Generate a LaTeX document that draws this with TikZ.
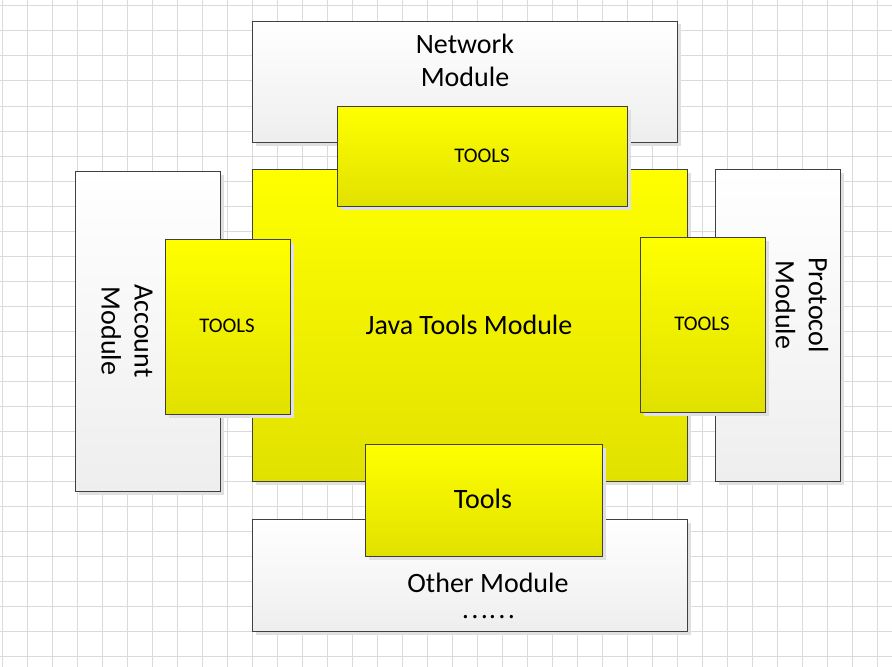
\documentclass[tikz,border=0pt]{standalone}
\usepackage{fontspec}
\setmainfont{Carlito}
\newfontfamily\cjkfont{Noto Sans CJK SC}
\usetikzlibrary{fit,shadows}
\definecolor{gridcol}{HTML}{DADADA}
\definecolor{bordercol}{HTML}{404040}
\definecolor{shadowcol}{HTML}{E0E0E0}
\definecolor{graybot}{HTML}{EEEEEE}
\definecolor{yeltop}{HTML}{FFFF00}
\definecolor{yelbot}{HTML}{E1E100}
\begin{document}
\begin{tikzpicture}[x=0.75pt,y=-0.75pt,
  box/.style={draw=bordercol, line width=0.8pt, inner sep=0pt, outer sep=0pt,
    drop shadow={shadow xshift=2.4pt, shadow yshift=-2.4pt, fill=shadowcol, opacity=1}},
  graybox/.style={box, top color=white, bottom color=graybot},
  yelbox/.style={box, top color=yeltop, bottom color=yelbot},
  big/.style={font=\fontsize{21}{24.75}\selectfont, align=center, inner sep=0pt},
  small/.style={font=\fontsize{15.6}{19}\selectfont, inner sep=0pt}]
\useasboundingbox (0,0) rectangle (892,667);
\fill[white] (0,0) rectangle (892,667);
\foreach \k in {0,...,35} \draw[gridcol, line width=0.75pt] ({2.5+25*\k},0) -- ({2.5+25*\k},667);
\foreach \k in {0,...,26} \draw[gridcol, line width=0.75pt] (0,{6+25*\k}) -- (892,{6+25*\k});
% modules
\node[graybox, fit={(252.3,21.3) (677.3,142.3)}] (net) {};
\node[graybox, fit={(75.3,171.3) (220.3,491.3)}] (acct) {};
\node[graybox, fit={(715.3,169.3) (840.7,481.3)}] (prot) {};
\node[graybox, fit={(252.3,519.3) (687.3,631.3)}] (other) {};
\node[yelbox, fit={(252.3,169.3) (687.3,481.3)}] (java) {};
% tools
\node[yelbox, fit={(337.3,106.3) (627.3,206.3)}] (toolsT) {};
\node[yelbox, fit={(165.3,239.3) (290.3,414.3)}] (toolsL) {};
\node[yelbox, fit={(640.3,237.3) (765.3,412.3)}] (toolsR) {};
\node[yelbox, fit={(365.3,444.3) (602.3,556.3)}] (toolsB) {};
% texts
\node[big] (net-t) at (465,60) {Network\\Module};
\node[big, rotate=-90] (acct-t) at (127,331) {Account\\Module};
\node[big, rotate=-90] (prot-t) at (802,305) {Protocol\\Module};
\node[big] (other-t) at (488,583) {Other Module};
\node[font=\cjkfont\fontsize{19}{24.75}\selectfont, inner sep=0pt] (dots) at (488,617) {……};
\node[big] (java-t) at (469,325) {Java Tools Module};
\node[small] (toolsT-t) at (482,156) {TOOLS};
\node[small] (toolsL-t) at (227,326) {TOOLS};
\node[small] (toolsR-t) at (702,324) {TOOLS};
\node[big] (toolsB-t) at (483,499) {Tools};
\end{tikzpicture}
\end{document}
